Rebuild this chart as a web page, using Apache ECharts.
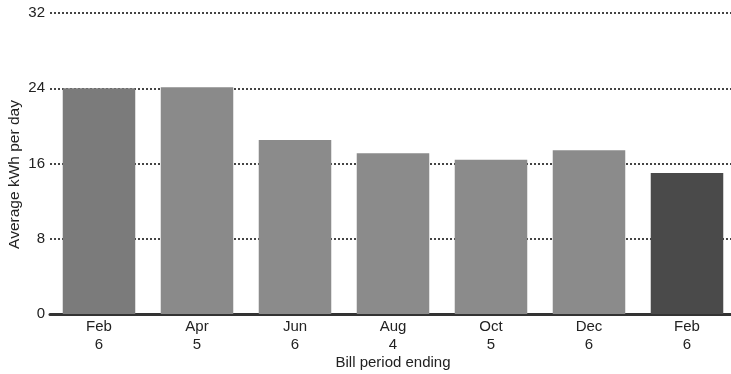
<!DOCTYPE html>
<html><head><meta charset="utf-8">
<script src="https://cdn.jsdelivr.net/npm/echarts@6/dist/echarts.min.js"></script>
<style>html,body{margin:0;padding:0;background:#fff}#c{width:731px;height:374px}</style>
</head><body><div id="c"></div>
<script>
const categories = ['Feb\n6','Apr\n5','Jun\n6','Aug\n4','Oct\n5','Dec\n6','Feb\n6'];
const values = [24.0, 24.1, 18.5, 17.1, 16.4, 17.4, 15.0];
const barColors = ['#7b7b7b','#8a8a8a','#8b8b8b','#8b8b8b','#8b8b8b','#8b8b8b','#4a4a4a'];
const yTicks = [0, 8, 16, 24, 32];

const FONT = 'Liberation Sans, Arial';
const chart = echarts.init(document.getElementById('c'), null, {renderer:'canvas'});
chart.setOption({
  animation:false,
  grid:{left:50, top:13, width:686, height:301, containLabel:false, outerBoundsMode:'none'},
  xAxis:{
    type:'category', data:categories,
    axisLine:{lineStyle:{color:'#333', width:3}},
    axisTick:{show:false},
    axisLabel:{color:'#222', fontFamily:FONT, fontSize:15, lineHeight:18, margin:4},
    name:'Bill period ending', nameLocation:'middle', nameGap:41, nameMoveOverlap:false,
    nameTextStyle:{color:'#222', fontFamily:FONT, fontSize:15}
  },
  yAxis:{
    type:'value', min:yTicks[0], max:yTicks[yTicks.length-1], interval:8,
    axisLine:{show:false}, axisTick:{show:false},
    axisLabel:{color:'#222', fontFamily:FONT, fontSize:15, margin:5},
    splitLine:{lineStyle:{color:'#444', width:2, type:[2,2]}},
    name:'Average kWh per day', nameLocation:'middle', nameGap:27, nameRotate:90, nameMoveOverlap:false,
    nameTextStyle:{color:'#222', fontFamily:FONT, fontSize:15.5, padding:[0,22,0,0]}
  },
  series:[{
    type:'bar', barCategoryGap:'26%',
    data: values.map((v,i)=>({value:v, itemStyle:{color:barColors[i]}}))
  }]
});
</script></body></html>
